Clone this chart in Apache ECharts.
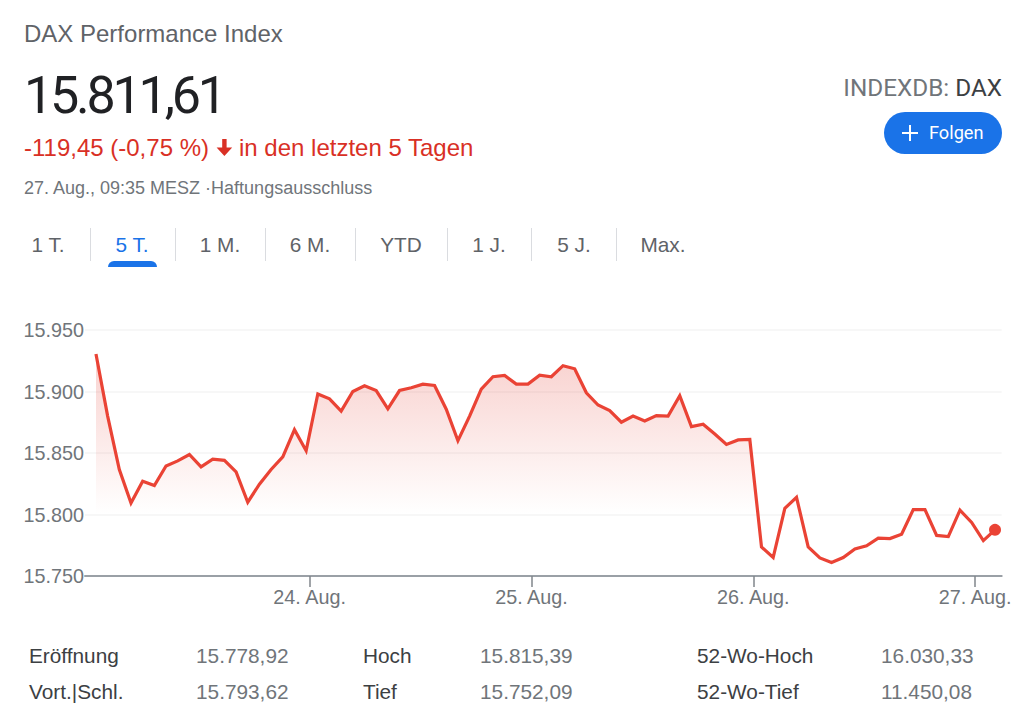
<!DOCTYPE html>
<html lang="de"><head><meta charset="utf-8"><title>DAX Performance Index</title>
<script src="https://cdn.jsdelivr.net/npm/echarts@6/dist/echarts.min.js"></script>
<style>
html,body{margin:0;padding:0;background:#fff;width:1015px;height:720px;overflow:hidden;font-family:"Liberation Sans",Arial,sans-serif}
#chart{position:absolute;left:0;top:0;width:1015px;height:720px}
.t{position:absolute;white-space:nowrap;line-height:30px;height:30px;transform:translateY(-15px)}
.c{transform:translate(-50%,-15px)}
.r{transform:translate(-100%,-15px)}
.sep{position:absolute;top:228px;height:33px;width:1px;background:#dadce0}
.tab{font-size:20.8px;color:#5f6368}
.lab{font-size:20.8px;color:#3c4043}
.val{font-size:20.8px;color:#70757a}
#ind{position:absolute;left:108px;top:261px;width:49px;height:6px;background:#1a73e8;border-radius:6px 6px 0 0}
#btn{position:absolute;left:884px;top:112px;width:118px;height:42px;border-radius:21px;background:#1a73e8}
</style></head><body>
<div id="chart"></div>
<div class="t" style="left:24px;top:34px;font-size:24px;color:#5f6368">DAX Performance Index</div>
<div class="t" style="left:24px;top:96px;font-size:52px;letter-spacing:-3.2px;color:#202124;font-family:Roboto">15.811,61</div>
<div class="t" style="left:24px;top:148px;font-size:24px;color:#d93025">-119,45 (-0,75 %)</div>
<svg style="position:absolute;left:215px;top:138px" width="19" height="19" viewBox="0 0 19 19"><path d="M7.2 1h4.4v8.6h5.6L9.4 18 1.6 9.6h5.6z" fill="#d93025"/></svg>
<div class="t" style="left:239px;top:148px;font-size:24px;color:#d93025">in den letzten 5 Tagen</div>
<div class="t" style="left:24px;top:188px;font-size:18px;color:#70757a">27. Aug., 09:35 MESZ ·Haftungsausschluss</div>
<div class="t r" style="left:1002px;top:88px;font-size:24.3px;color:#70757a;font-family:Roboto">INDEXDB: <span style="color:#3c4043">DAX</span></div>
<div id="btn"></div>
<svg style="position:absolute;left:901px;top:124px" width="18" height="18" viewBox="0 0 18 18"><path d="M8 1h2v7h7v2h-7v7H8v-7H1V8h7z" fill="#fff"/></svg>
<div class="t" style="left:929px;top:133px;font-size:18.2px;color:#fff;font-family:Roboto">Folgen</div>
<div id="tabs"></div><div id="ind"></div>
<div id="stats"></div>
<script>
const values = [15930.5,15880,15836.6,15809.4,15827,15823.5,15839.5,15843.6,15848.8,15838.7,15845,15844,15834.7,15810,15824.6,15836.6,15846.9,15869,15851.8,15898,15894,15884,
15900,15904.6,15900.8,15885.9,15900.8,15903,15906,15904.9,15885.6,15860,15880,15902,15912,15913,15906,15906,15913.3,15912,15921,15918.5,15899,15889,15884.5,15875,15880,15876,15880.4,15880,
15896.5,15871.5,15873.4,15865.5,15857,15860.6,15861,15773.6,15765,15805,15814,15773.6,15764.7,15761,15765,15772,15774.5,15780.7,15780.4,15784,15804,15804,15783,15782,15803.5,15793.5,15778.8,15787.5];
const dayTicks = [18.3,37.3,56.3,75.3];
const dayLabels = ['24. Aug.','25. Aug.','26. Aug.','27. Aug.'];
const tabNames = ['1 T.','5 T.','1 M.','6 M.','YTD','1 J.','5 J.','Max.'];
const statLabels1 = ['Eröffnung','Vort.|Schl.'];
const statValues1 = ['15.778,92','15.793,62'];
const statLabels2 = ['Hoch','Tief'];
const statValues2 = ['15.815,39','15.752,09'];
const statLabels3 = ['52-Wo-Hoch','52-Wo-Tief'];
const statValues3 = ['16.030,33','11.450,08'];

const tabCenters=[48,132,220,310,401,489,574,663], seps=[90,175,265,355,447,531,616];
let h='';
tabNames.forEach((n,i)=>{h+=`<div class="t c tab" style="left:${tabCenters[i]}px;top:245px;${i==1?'color:#1a73e8':''}">${n}</div>`});
seps.forEach(x=>{h+=`<div class="sep" style="left:${x}px"></div>`});
document.getElementById('tabs').innerHTML=h;
h='';
[[statLabels1,statValues1,29,196],[statLabels2,statValues2,363,480],[statLabels3,statValues3,697,881]].forEach(([l,v,a,b])=>{
  [656,692].forEach((y,i)=>{
    h+=`<div class="t lab" style="left:${a}px;top:${y}px">${l[i]}</div><div class="t val" style="left:${b}px;top:${y}px">${v[i]}</div>`;
  });
});
document.getElementById('stats').innerHTML=h;

const labelFont='"Liberation Sans",Arial,sans-serif';
const chart=echarts.init(document.getElementById('chart'),null,{renderer:'svg'});
const lastIdx=values.length-1;
chart.setOption({
  animation:false,
  grid:{left:85,right:13,top:330,bottom:144},
  xAxis:{type:'value',min:-0.94,max:77.57,
    splitLine:{show:false},
    axisLine:{show:true,onZero:false,lineStyle:{color:'#9aa0a6',width:2}},
    axisTick:{show:true,customValues:dayTicks,length:11,lineStyle:{color:'#80868b',width:1.5}},
    axisLabel:{show:true,customValues:dayTicks,showMinLabel:true,showMaxLabel:true,hideOverlap:false,margin:11,fontSize:19.8,color:'#70757a',fontFamily:labelFont,
      formatter:v=>dayLabels[dayTicks.indexOf(v)]}},
  yAxis:{type:'value',min:15750,max:15950,interval:50,
    axisLine:{show:false},axisTick:{show:false},
    splitLine:{show:true,lineStyle:{color:'#f5f5f5',width:1.5}},
    axisLabel:{margin:1,fontSize:19.8,color:'#70757a',fontFamily:labelFont,
      formatter:v=>String(v).replace(/(\d{3})$/,'.$1')}},
  series:[
    {type:'line',data:values.map((v,i)=>[i,v]),showSymbol:false,silent:true,
      lineStyle:{color:'#ea4335',width:3.2,join:'miter'},
      areaStyle:{origin:'start',color:new echarts.graphic.LinearGradient(0,0,0,1,[
        {offset:0,color:'rgba(228,62,50,0.34)'},
        {offset:0.72,color:'rgba(228,62,50,0)'},
        {offset:1,color:'rgba(228,62,50,0)'}])}},
    {type:'scatter',data:[[lastIdx,values[lastIdx]]],symbol:'circle',symbolSize:12,silent:true,itemStyle:{color:'#ea4335',opacity:1}}
  ]
});
</script>
</body></html>
